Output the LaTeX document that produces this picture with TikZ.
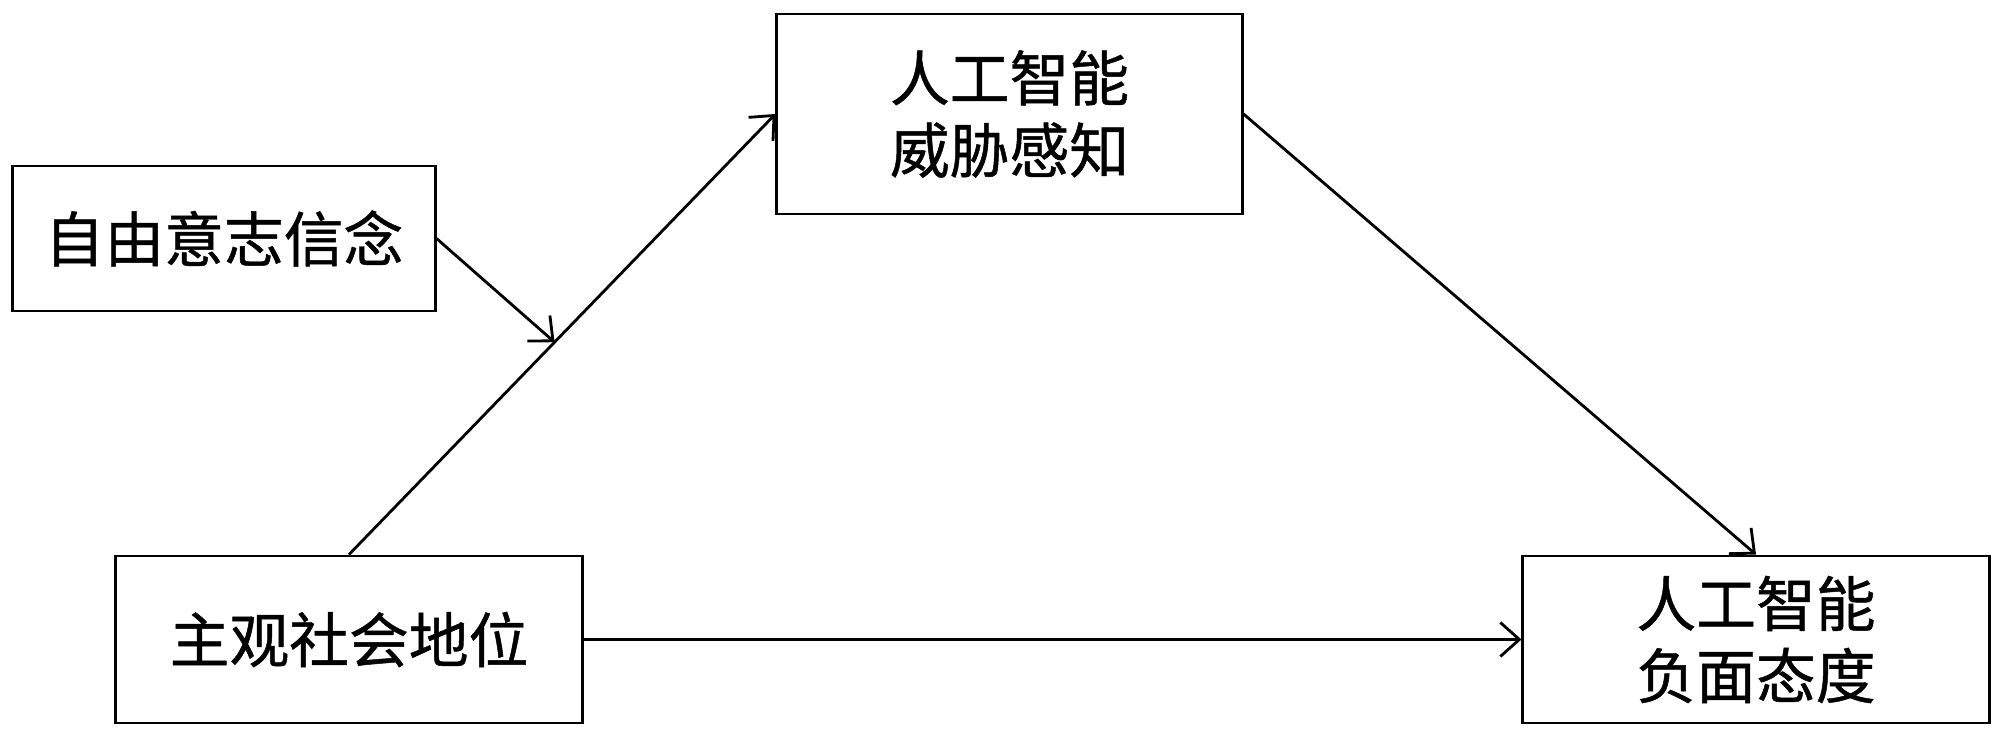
\documentclass[tikz,border=0pt]{standalone}
\usepackage{fontspec}
\newfontfamily\cjk[FakeBold=0.8]{Noto Sans CJK SC}
\usetikzlibrary{arrows.meta,calc}
\tikzset{
  box/.style={draw, line width=0.8pt, inner sep=0pt, align=center, font=\cjk\fontsize{17}{20.5}\selectfont},
  link/.style={line width=0.8pt, -{Straight Barb[length=0.19cm,width=0.34cm,line width=0.8pt]}},
  plain/.style={line width=0.8pt}
}
\begin{document}
\begin{tikzpicture}[x=0.01cm,y=-0.01cm]
\useasboundingbox (0,0) rectangle (2000,737);
\node[box, minimum width=4.22cm, minimum height=1.45cm] (free) at (224,238.5) {自由意志信念};
\node[box, minimum width=4.65cm, minimum height=2.0cm] (threat) at (1009.5,114) {人工智能\\威胁感知};
\node[box, minimum width=4.66cm, minimum height=1.67cm] (sss) at (349,639.5) {主观社会地位};
\node[box, minimum width=4.66cm, minimum height=1.67cm] (neg) at (1756,639.5) {人工智能\\负面态度};
\coordinate (m) at ($(sss.north)!0.482!(threat.west)$);
\draw[link] (sss.north) -- (threat.west);
\draw[link] (free.east) -- (m);
\draw[link] (threat.east) -- (neg.north);
\draw[link] (sss.east) -- (neg.west);
\end{tikzpicture}
\end{document}
